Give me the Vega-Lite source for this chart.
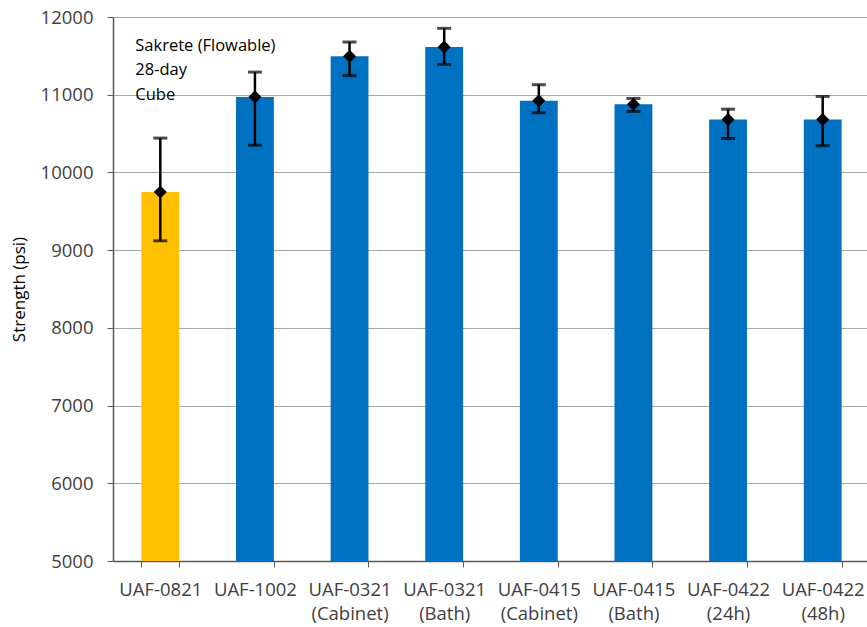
{
  "$schema": "https://vega.github.io/schema/vega-lite/v6.json",
  "width": 757,
  "height": 544,
  "autosize": {"type": "none"},
  "padding": {"left": 113, "top": 17, "right": 0, "bottom": 66},
  "background": "white",
  "config": {
    "font": "Open Sans",
    "view": {"stroke": null},
    "axis": {"labelFont": "Open Sans", "titleFont": "Open Sans"}
  },
  "data": {
    "values": [
      {"sample": "UAF-0821", "mean": 9748, "lo": 9120, "hi": 10442, "grp": "ref"},
      {"sample": "UAF-1002", "mean": 10972, "lo": 10350, "hi": 11291, "grp": "uaf"},
      {"sample": "UAF-0321 (Cabinet)", "mean": 11494, "lo": 11245, "hi": 11678, "grp": "uaf"},
      {"sample": "UAF-0321 (Bath)", "mean": 11613, "lo": 11390, "hi": 11854, "grp": "uaf"},
      {"sample": "UAF-0415 (Cabinet)", "mean": 10922, "lo": 10768, "hi": 11129, "grp": "uaf"},
      {"sample": "UAF-0415 (Bath)", "mean": 10876, "lo": 10785, "hi": 10952, "grp": "uaf"},
      {"sample": "UAF-0422 (24h)", "mean": 10682, "lo": 10437, "hi": 10814, "grp": "uaf"},
      {"sample": "UAF-0422 (48h)", "mean": 10682, "lo": 10343, "hi": 10978, "grp": "uaf"}
    ]
  },
  "encoding": {
    "x": {
      "field": "sample",
      "type": "nominal",
      "sort": null,
      "scale": {"paddingInner": 0.6, "paddingOuter": 0.3},
      "axis": {
        "title": null,
        "labelAngle": 0,
        "labelExpr": "isValid(datum.value) ? split(datum.value, ' ') : ''",
        "labelFontSize": 18.5,
        "labelColor": "#404040",
        "labelPadding": 13,
        "labelLineHeight": 24,
        "tickBand": "extent",
        "tickSize": 6,
        "tickColor": "#595959",
        "domainColor": "#595959",
        "domainWidth": 1.5,
        "grid": false
      }
    }
  },
  "layer": [
    {
      "mark": {"type": "bar"},
      "encoding": {
        "y": {
          "field": "mean",
          "type": "quantitative",
          "scale": {"domain": [5000, 12000], "zero": false, "nice": false},
          "axis": {
            "title": "Strength (psi)",
            "titleFontSize": 17,
            "titleFontWeight": "normal",
            "titleColor": "#000000",
            "titlePadding": 12,
            "format": "d",
            "values": [5000, 6000, 7000, 8000, 9000, 10000, 11000, 12000],
            "labelFontSize": 18.5,
            "labelColor": "#404040",
            "labelPadding": 14,
            "tickSize": 6,
            "tickColor": "#595959",
            "domainColor": "#595959",
            "domainWidth": 1.5,
            "gridColor": "#a6a6a6",
            "gridWidth": 1.2
          }
        },
        "y2": {"datum": 5000},
        "color": {
          "field": "grp",
          "type": "nominal",
          "scale": {"domain": ["ref", "uaf"], "range": ["#FFC000", "#0070C0"]},
          "legend": null
        }
      }
    },
    {
      "mark": {"type": "rule", "color": "black", "strokeWidth": 2.5},
      "encoding": {
        "y": {"field": "lo", "type": "quantitative"},
        "y2": {"field": "hi"}
      }
    },
    {
      "mark": {"type": "tick", "color": "black", "thickness": 3, "size": 14, "orient": "horizontal"},
      "encoding": {"y": {"field": "lo", "type": "quantitative"}}
    },
    {
      "mark": {"type": "tick", "color": "black", "thickness": 3, "size": 14, "orient": "horizontal"},
      "encoding": {"y": {"field": "hi", "type": "quantitative"}}
    },
    {
      "mark": {"type": "point", "shape": "diamond", "filled": true, "color": "black", "size": 170, "opacity": 1},
      "encoding": {"y": {"field": "mean", "type": "quantitative"}}
    },
    {
      "data": {"values": [{"sample": "UAF-0821", "y": 11630, "note": "Sakrete (Flowable)\n28-day\nCube"}]},
      "mark": {"type": "text", "align": "left", "baseline": "middle", "fontSize": 16.5, "lineBreak": "\n", "lineHeight": 24.5, "dx": -25, "color": "#000000"},
      "encoding": {
        "x": {"field": "sample", "type": "nominal"},
        "y": {"field": "y", "type": "quantitative"},
        "text": {"field": "note"}
      }
    }
  ]
}
